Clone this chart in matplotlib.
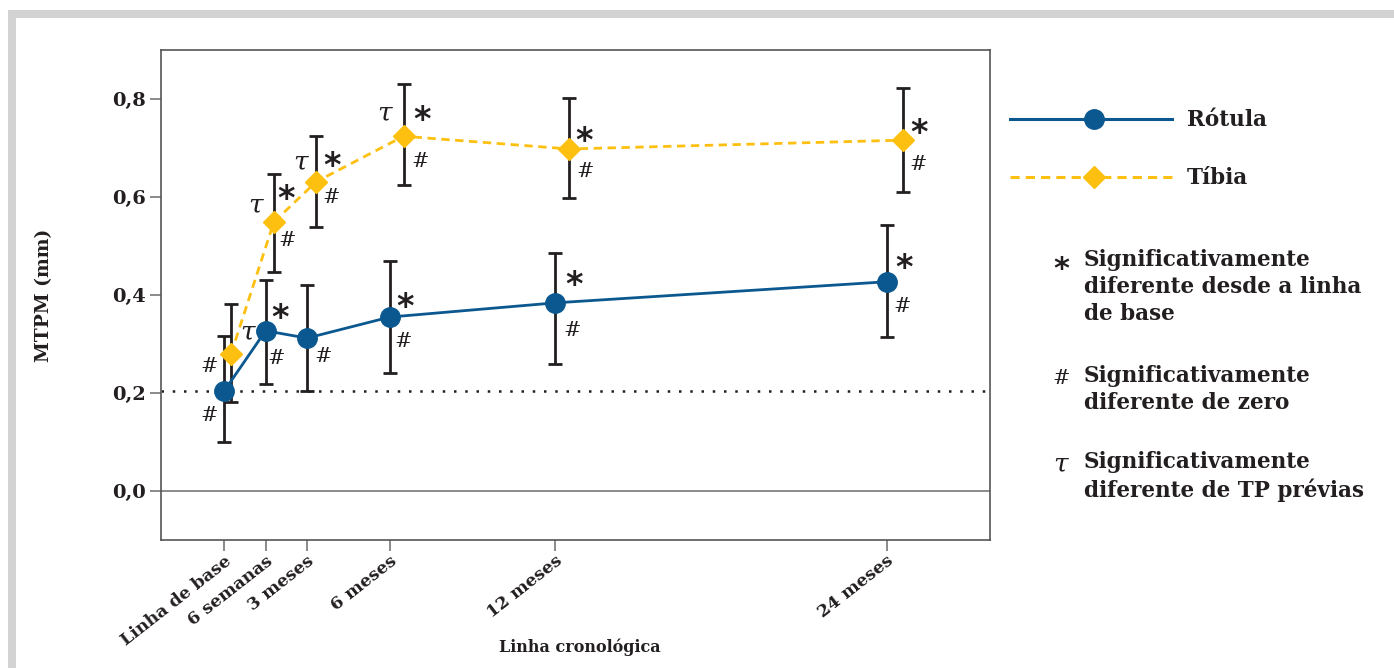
import numpy as np
import matplotlib.pyplot as plt
from matplotlib.patches import Rectangle

# tempos de medição (meses) e rótulos do eixo x
meses = [0, 1.5, 3, 6, 12, 24]
rotulos = ['Linha de base', '6 semanas', '3 meses', '6 meses', '12 meses', '24 meses']

# MTPM médio e limites das barras de erro
rotula = [0.204, 0.327, 0.312, 0.355, 0.384, 0.427]
rotula_sup = [0.316, 0.430, 0.420, 0.469, 0.486, 0.543]
rotula_inf = [0.100, 0.218, 0.204, 0.241, 0.259, 0.314]

tibia = [0.280, 0.549, 0.631, 0.724, 0.698, 0.716]
tibia_sup = [0.382, 0.647, 0.724, 0.831, 0.802, 0.822]
tibia_inf = [0.182, 0.447, 0.539, 0.624, 0.598, 0.610]

linha_base = 0.205

# desvio horizontal da tíbia para não sobrepor a rótula
desvio = [0.25, 0.3, 0.33, 0.5, 0.5, 0.58]

# marcas de significância: (série, índice, símbolo, dx, dy) em pixels
marcas = [
    ('r', 0, '#', -15, -25), ('r', 0, '#', -15, 24),
    ('r', 1, 'τ', -18, 1), ('r', 1, '*', 14, -20), ('r', 1, '#', 11, 28),
    ('r', 2, '#', 16, 18),
    ('r', 3, '*', 15, -18), ('r', 3, '#', 13, 24),
    ('r', 4, '*', 19, -25), ('r', 4, '#', 17, 28),
    ('r', 5, '*', 18, -21), ('r', 5, '#', 16, 25),
    ('t', 1, 'τ', -18, -17), ('t', 1, '*', 12, -30), ('t', 1, '#', 13, 19),
    ('t', 2, 'τ', -16, -20), ('t', 2, '*', 16, -23), ('t', 2, '#', 15, 16),
    ('t', 3, 'τ', -19, -23), ('t', 3, '*', 18, -24), ('t', 3, '#', 17, 25),
    ('t', 4, '*', 15, -15), ('t', 4, '#', 16, 23),
    ('t', 5, '*', 17, -15), ('t', 5, '#', 16, 24),
]

azul = '#0b5890'
amarelo = '#fdc010'
escuro = '#231f20'
serif = 'DejaVu Serif'

fig = plt.figure(figsize=(13.94, 6.68), dpi=100)
ax = fig.add_axes([161 / 1394, 1 - 540 / 668, (990 - 161) / 1394, (540 - 50) / 668])

x_r = np.array(meses, dtype=float)
x_t = x_r + np.array(desvio)
r = np.array(rotula)
t = np.array(tibia)

ax.axhline(0, color='#777777', lw=1.2, zorder=1)
ax.axhline(linha_base, color=escuro, lw=1.8, ls=(0, (1, 3.5)), zorder=1)

ax.errorbar(x_r, r, yerr=[r - np.array(rotula_inf), np.array(rotula_sup) - r],
            fmt='none', ecolor=escuro, elinewidth=2, capsize=5, capthick=2, zorder=2)
ax.errorbar(x_t, t, yerr=[t - np.array(tibia_inf), np.array(tibia_sup) - t],
            fmt='none', ecolor=escuro, elinewidth=2, capsize=5, capthick=2, zorder=2)

ax.plot(x_t, t, color=amarelo, lw=2, ls=(0, (3, 2)), marker='D', ms=11,
        mec=amarelo, zorder=3)
ax.plot(x_r, r, color=azul, lw=2, marker='o', ms=14, mec=azul, zorder=4)

estilos = {'*': dict(fontsize=24, fontweight='bold', family='DejaVu Sans'),
           '#': dict(fontsize=15, style='italic', family=serif),
           'τ': dict(fontsize=19, style='italic', family=serif)}
for serie, i, s, dx, dy in marcas:
    xx, yy = (x_r[i], r[i]) if serie == 'r' else (x_t[i], t[i])
    desloc_y = -dy
    if s == '*':
        desloc_y -= 8
    ax.annotate(s, (xx, yy), xytext=(dx, desloc_y), textcoords='offset pixels',
                ha='center', va='center', color=escuro, zorder=5, **estilos[s])

ax.set_xlim(-2.29, 27.75)
ax.set_ylim(-0.1, 0.9)
ax.set_yticks([0, 0.2, 0.4, 0.6, 0.8])
ax.set_yticklabels(['0,0', '0,2', '0,4', '0,6', '0,8'], fontsize=14,
                   fontweight='bold', family=serif, color=escuro)
ax.set_xticks(meses)
ax.set_xticklabels(rotulos, rotation=38, ha='right', rotation_mode='anchor',
                   fontsize=12.5, fontweight='bold', family=serif, color=escuro)
ax.tick_params(axis='both', length=8, width=1.2, color='#777777', pad=3)
ax.tick_params(axis='x', pad=1)
for sp in ax.spines.values():
    sp.set_color('#555555')
    sp.set_linewidth(1.2)

ax.set_ylabel('MTPM (mm)', fontsize=13.5, fontweight='bold', family=serif,
              color=escuro, labelpad=42)
fig.text(580 / 1394, 1 - 647 / 668, 'Linha cronológica', fontsize=11.5,
         fontweight='bold', family=serif, color=escuro, ha='center', va='center')

# camada em coordenadas de pixel para moldura e legenda
ov = fig.add_axes([0, 0, 1, 1], zorder=-1)
ov.set_xlim(0, 1394)
ov.set_ylim(668, 0)
ov.axis('off')
ov.add_patch(Rectangle((8, 10), 1394, 8, color='#d3d3d3', lw=0))
ov.add_patch(Rectangle((8, 10), 8, 668, color='#d3d3d3', lw=0))

leg = fig.add_axes([0, 0, 1, 1])
leg.set_xlim(0, 1394)
leg.set_ylim(668, 0)
leg.axis('off')
leg.plot([1010, 1172], [119, 119], color=azul, lw=2.2)
leg.plot([1094], [119], marker='o', ms=14, color=azul)
leg.plot([1010, 1172], [177, 177], color=amarelo, lw=2.2, ls=(0, (3, 2)))
leg.plot([1094], [177], marker='D', ms=11, color=amarelo)
leg.text(1187, 120, 'Rótula', fontsize=15.5, fontweight='bold', family=serif,
         color=escuro, va='center')
leg.text(1187, 178, 'Tíbia', fontsize=15.5, fontweight='bold', family=serif,
         color=escuro, va='center')

notas = [('*', 262, 'Significativamente\ndiferente desde a linha\nde base'),
         ('#', 378, 'Significativamente\ndiferente de zero'),
         ('τ', 464, 'Significativamente\ndiferente de TP prévias')]
for s, y, txt in notas:
    est = dict(estilos[s])
    if s == '*':
        est['fontsize'] = 22
    leg.text(1061, y + (7 if s == '*' else 0), s, ha='center', va='center',
             color=escuro, **est)
    leg.text(1084, y - 13, txt, fontsize=15.5, fontweight='bold', family=serif,
             color=escuro, va='top', linespacing=1.3)

fig.savefig('out.png', dpi=100)
